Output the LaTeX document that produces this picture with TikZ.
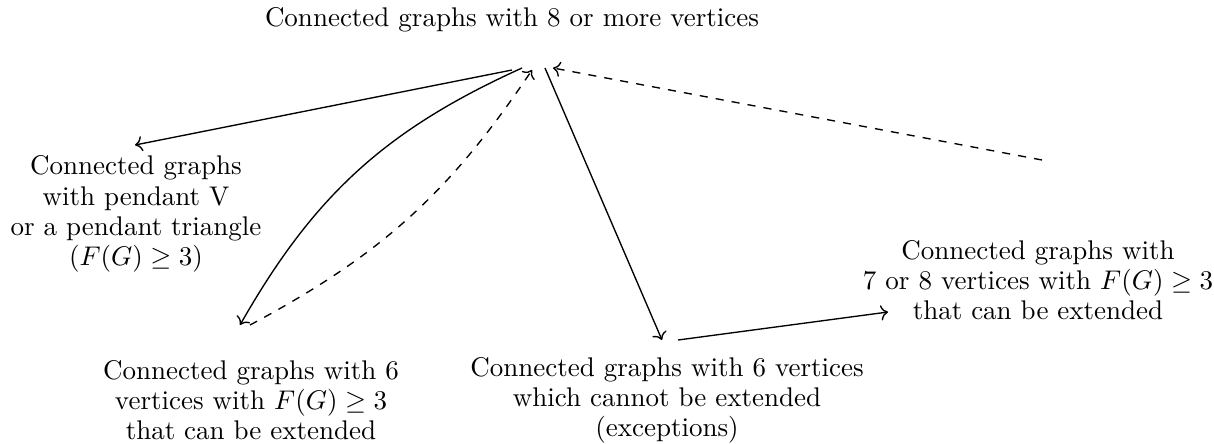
\documentclass[tikz,border=0pt]{standalone}
\usepackage{amsmath}
\usepackage{tikz}
\usetikzlibrary{positioning, arrows.meta, calc}
\tikzset{
  % graph class = centred multi-line text
  gclass/.style={align=center, inner sep=0pt,
                 font=\linespread{0.93}\selectfont},
  % solid reduction arrow
  reduce/.style={->, line width=0.5pt},
  % dashed back arrow
  backref/.style={->, dashed, line width=0.5pt},
}

\begin{document}
\begin{tikzpicture}[x=0.3704pt, y=-0.3704pt]
  \useasboundingbox (0,0) rectangle (1214,443);
  \node[gclass] (big) at (512,20) {Connected graphs with 8 or more vertices};
  \node[gclass] (pend) at (136,214)
    {Connected graphs\\ with pendant V\\ or a pendant triangle\\ $(F(G)\geq 3)$};
  \node[gclass] (six) at (251,400)
    {Connected graphs with 6\\ vertices with $F(G)\geq 3$\\ that can be extended};
  \node[gclass] (exc) at (667,400)
    {Connected graphs with 6 vertices\\ which cannot be extended\\ (exceptions)};
  \node[gclass] (seven) at (1038,280)
    {Connected graphs with\\ 7 or 8 vertices with $F(G)\geq 3$\\ that can be extended};
  % arrow ends
  \coordinate (bigA) at (512,70);
  \coordinate (bigB) at (522,68);
  \coordinate (bigC) at (532,70);
  \coordinate (bigD) at (545,68);
  \coordinate (bigE) at (553,68);
  \coordinate (pendIn) at (135,145);
  \coordinate (sixIn) at (240,325);
  \coordinate (sixOut) at (250,325);
  \coordinate (excIn) at (662,340);
  \coordinate (excOut) at (678,340);
  \coordinate (sevenIn) at (888,312);
  \coordinate (sevenOut) at (1042,160);
  \draw[reduce] (bigA) -- (pendIn);
  \draw[reduce] (bigB) to[bend right=18] (sixIn);
  \draw[backref] (sixOut) to[bend right=14] (bigC);
  \draw[reduce] (bigD) -- (excIn);
  \draw[reduce] (excOut) -- (sevenIn);
  \draw[backref] (sevenOut) -- (bigE);
\end{tikzpicture}
\end{document}
